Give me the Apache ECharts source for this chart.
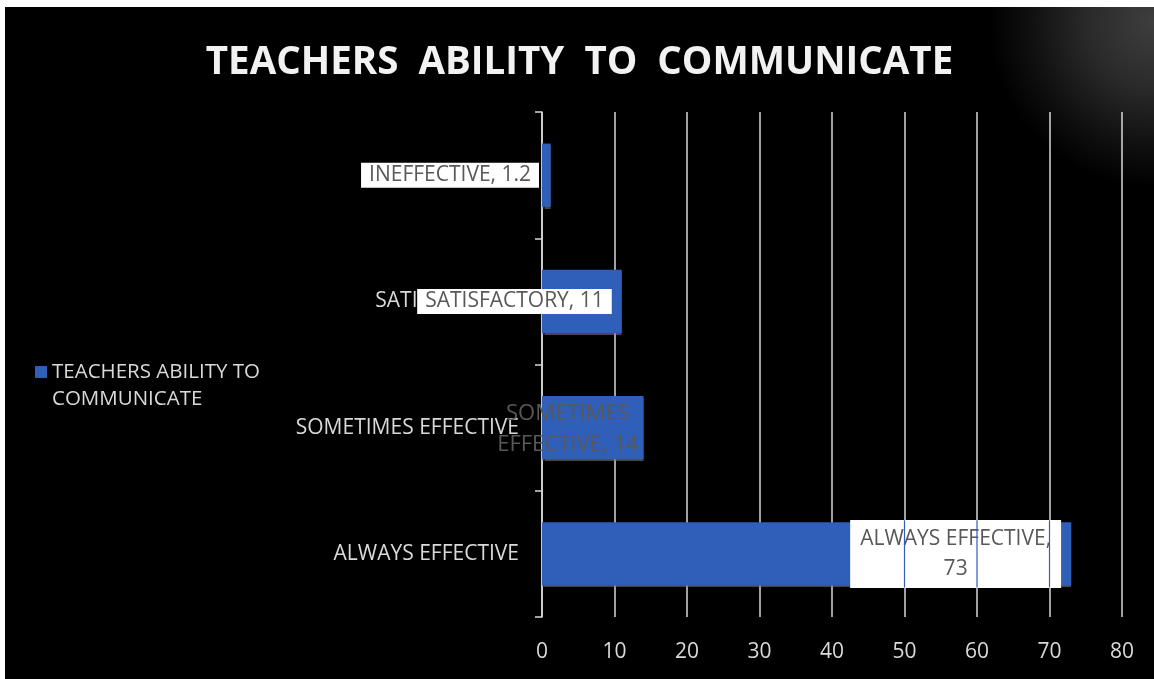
<!DOCTYPE html>
<html>
<head>
<meta charset="utf-8">
<script src="https://cdn.jsdelivr.net/npm/echarts@6/dist/echarts.min.js"></script>
<style>
html,body{margin:0;padding:0;background:#fff;width:1154px;height:679px;overflow:hidden;}
#c{position:absolute;left:5px;top:7px;width:1149px;height:672px;}
</style>
</head>
<body>
<div id="c"></div>
<script>
const titleText = 'TEACHERS  ABILITY  TO  COMMUNICATE';
const seriesName = 'TEACHERS ABILITY TO COMMUNICATE';
const categories = ['ALWAYS EFFECTIVE', 'SOMETIMES EFFECTIVE', 'SATISFACTORY', 'INEFFECTIVE'];
const values = [73, 14, 11, 1.2];
const labelTexts = ['ALWAYS EFFECTIVE,\n73', 'SOMETIMES\nEFFECTIVE, 14', 'SATISFACTORY, 11', 'INEFFECTIVE, 1.2'];
const xTicks = [0, 10, 20, 30, 40, 50, 60, 70, 80];
// gridlines that show through the white label box of the longest bar
const overlayTicks = [50, 60, 70];

const FONT = '"Open Sans", sans-serif';
const chart = echarts.init(document.getElementById('c'));

const labelStyles = [
  {position: 'inside', offset: [149, 0], align: 'center', backgroundColor: '#fff', padding: [4, 10, 4, 10], lineHeight: 30},
  {position: 'inside', offset: [-25, 2], align: 'center', lineHeight: 31, fontSize: 22},
  {position: 'insideRight', distance: 10, backgroundColor: '#fff', padding: [2, 8, 2, 8], lineHeight: 21},
  {position: 'left', distance: 3, backgroundColor: '#fff', padding: [2, 8, 2, 8], lineHeight: 21}
];

const data = values.map((v, i) => ({
  value: v,
  label: Object.assign({
    show: true,
    formatter: labelTexts[i],
    color: '#595959',
    fontSize: 21,
    fontFamily: FONT
  }, labelStyles[i])
}));

chart.setOption({
  backgroundColor: '#000',
  graphic: [{
    type: 'rect',
    shape: {x: 900, y: 0, width: 249, height: 230},
    style: {
      fill: {
        type: 'radial', x: 1149, y: 15, r: 165, global: true,
        colorStops: [
          {offset: 0, color: 'rgba(62,62,62,1)'},
          {offset: 0.4, color: 'rgba(42,42,42,1)'},
          {offset: 0.75, color: 'rgba(16,16,16,1)'},
          {offset: 1, color: 'rgba(0,0,0,1)'}
        ]
      }
    },
    z: -10, silent: true
  }],
  title: {
    text: titleText,
    left: 'center',
    top: 32,
    textStyle: {color: '#f2f2f2', fontSize: 38.5, fontWeight: 'bold', fontFamily: FONT}
  },
  legend: {
    data: [seriesName],
    left: 25,
    top: 347,
    orient: 'vertical',
    icon: 'path://M0,0h12v12h-12z M0,40h0.01v0.01h-0.01z',
    itemWidth: 12,
    itemHeight: 40,
    itemGap: 6,
    formatter: () => 'TEACHERS ABILITY TO\nCOMMUNICATE',
    textStyle: {color: '#d9d9d9', fontSize: 20.5, fontFamily: FONT, lineHeight: 27}
  },
  grid: {left: 537, right: 32, top: 105, bottom: 62, containLabel: false},
  xAxis: {
    type: 'value',
    min: xTicks[0],
    max: xTicks[xTicks.length - 1],
    interval: 10,
    axisLine: {show: false},
    axisTick: {show: false},
    splitLine: {show: true, lineStyle: {color: '#d9d9d9', width: 1.5}},
    axisLabel: {color: '#d9d9d9', fontSize: 21, fontFamily: FONT, margin: 25}
  },
  yAxis: {
    type: 'category',
    data: categories,
    axisLine: {show: true, lineStyle: {color: '#d9d9d9', width: 1.5}},
    axisTick: {show: true, length: 7, lineStyle: {color: '#d9d9d9', width: 1.5}},
    axisLabel: {color: '#d9d9d9', fontSize: 21, fontFamily: FONT, margin: 23, padding: [6, 0, 0, 0]}
  },
  series: [{
    name: seriesName,
    type: 'bar',
    data: data,
    barCategoryGap: '50%',
    itemStyle: {color: '#2F5FB9', shadowColor: 'rgba(120,120,120,0.6)', shadowOffsetY: 2, shadowBlur: 1},
    z: 3
  }, {
    name: 'overlay',
    type: 'custom',
    silent: true,
    z: 10,
    data: overlayTicks.map(t => [t, categories[0]]),
    renderItem: function (params, api) {
      const p = api.coord([api.value(0), api.value(1)]);
      const band = api.size([0, 1])[1];
      const h = band * 0.266;
      return {
        type: 'line',
        shape: {x1: p[0], y1: p[1] - h, x2: p[0], y2: p[1] + h},
        style: {stroke: '#2F5FB9', lineWidth: 1.2}
      };
    }
  }]
});
</script>
</body>
</html>
